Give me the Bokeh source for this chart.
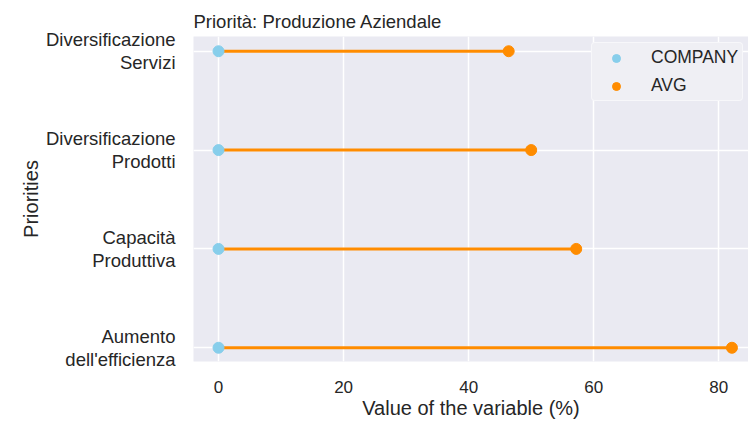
from bokeh.plotting import figure
from bokeh.models import FixedTicker, Legend, LegendItem, ColumnDataSource, Range1d
from bokeh.embed import file_html
from bokeh.resources import INLINE

# ---- data ----
categories = ["Aumento\ndell'efficienza", "Capacità\nProduttiva",
              "Diversificazione\nProdotti", "Diversificazione\nServizi"]
company = [0, 0, 0, 0]
avg = [82.1, 57.2, 50.0, 46.4]
x_ticks = [0, 20, 40, 60, 80]

ypos = list(range(len(categories)))
src = ColumnDataSource(dict(y=ypos, company=company, avg=avg))

TEXT = "#262626"
FONT = "Liberation Sans"

p = figure(width=748, height=421, output_backend="svg", toolbar_location=None,
           x_range=Range1d(-4.0, 84.75), y_range=Range1d(-0.139, 3.149),
           min_border_left=193, min_border_right=0, min_border_top=36,
           min_border_bottom=60, background_fill_color="#EAEAF2",
           border_fill_color="white", outline_line_color=None,
           title="Priorità: Produzione Aziendale")

p.title.text_font = FONT
p.title.text_font_size = "18.5px"
p.title.text_font_style = "normal"
p.title.text_color = TEXT
p.title.align = "left"
p.title.standoff = 10

p.segment(x0="company", x1="avg", y0="y", y1="y", source=src,
          line_color="#FF8C00", line_width=3)
r_c = p.scatter(x="company", y="y", source=src, size=11, color="#87CEEB")
r_a = p.scatter(x="avg", y="y", source=src, size=11, color="#FF8C00")

# axes
p.xaxis.ticker = FixedTicker(ticks=x_ticks)
p.yaxis.ticker = FixedTicker(ticks=ypos)
p.yaxis.major_label_overrides = {i: c for i, c in enumerate(categories)}
for ax in (p.xaxis[0], p.yaxis[0]):
    ax.axis_line_color = None
    ax.major_tick_line_color = None
    ax.minor_tick_line_color = None
    ax.major_label_text_font = FONT
    ax.major_label_text_color = TEXT
    ax.axis_label_text_font = FONT
    ax.axis_label_text_color = TEXT
    ax.axis_label_text_font_style = "normal"
    ax.axis_label_text_font_size = "20px"

p.xaxis.major_label_text_font_size = "17px"
p.xaxis.major_label_standoff = 13
p.xaxis.axis_label = "Value of the variable (%)"
p.xaxis.axis_label_standoff = 1

p.yaxis.major_label_text_font_size = "18.5px"
p.yaxis.major_label_text_line_height = 1.1
p.yaxis.major_label_standoff = 12
p.yaxis.axis_label = "Priorities"
p.yaxis.axis_label_standoff = 1

p.xgrid.grid_line_color = "white"
p.xgrid.grid_line_width = 1.5
p.ygrid.grid_line_color = "white"
p.ygrid.grid_line_width = 1.5

legend = Legend(items=[LegendItem(label="COMPANY", renderers=[r_c]),
                       LegendItem(label="AVG", renderers=[r_a])],
                location=(398, 260))
legend.label_text_font = FONT
legend.label_text_font_size = "17.5px"
legend.label_text_color = TEXT
legend.glyph_width = 40
legend.glyph_height = 20
legend.label_height = 20
legend.label_standoff = 15
legend.spacing = 7
legend.padding = 4
legend.margin = 0
legend.background_fill_color = "#EFEFF4"
legend.background_fill_alpha = 1.0
legend.border_line_color = "white"
legend.border_line_width = 1.5
legend.border_radius = 4
p.add_layout(legend)

open("out.html", "w").write(file_html(p, INLINE))
